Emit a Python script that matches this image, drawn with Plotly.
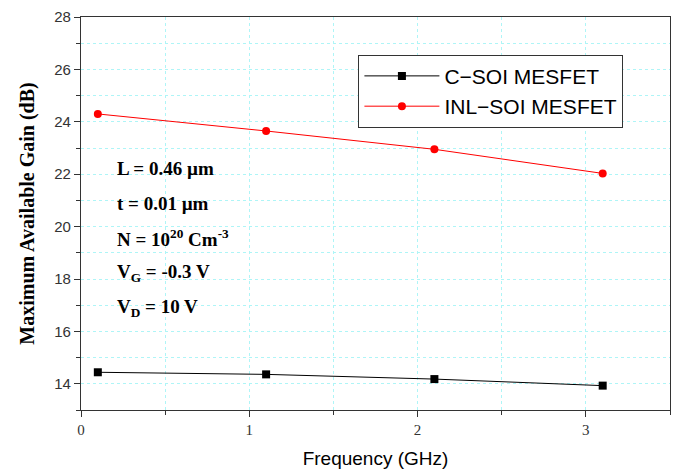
import plotly.graph_objects as go

freq = [0.1, 1.1, 2.1, 3.1]
c_soi = [14.44, 14.36, 14.18, 13.93]
inl_soi = [24.3, 23.65, 22.95, 22.03]

names = ["C\u2212SOI MESFET", "INL\u2212SOI MESFET"]
x_ticks = [0, 1, 2, 3]
y_ticks = [14, 16, 18, 20, 22, 24, 26, 28]

params = [
    "L = 0.46 \u00b5m",
    "t = 0.01 \u00b5m",
    "N = 10<sup>20</sup> Cm<sup>-3</sup>",
    "V<sub>G</sub> = -0.3 V",
    "V<sub>D</sub> = 10 V",
]

SERIF = "Liberation Serif, Times New Roman, serif"
SANS = "Liberation Sans, Arial, sans-serif"
GRID = "#aef5f7"

fig = go.Figure()
fig.add_trace(go.Scatter(
    x=freq, y=c_soi, name=names[0], mode="lines+markers",
    line=dict(color="black", width=1),
    marker=dict(symbol="square", size=8, color="black"),
))
fig.add_trace(go.Scatter(
    x=freq, y=inl_soi, name=names[1], mode="lines+markers",
    line=dict(color="red", width=1),
    marker=dict(symbol="circle", size=8, color="red"),
))

for i, t in enumerate(params):
    fig.add_annotation(
        x=0.057, y=0.615 - i * 0.0887, xref="paper", yref="paper",
        xanchor="left", yanchor="middle", text="<b>" + t + "</b>",
        showarrow=False, font=dict(family=SERIF, size=19, color="black"),
    )

grid = dict(showgrid=True, gridcolor=GRID, griddash="dot", gridwidth=1)

fig.update_layout(
    width=679, height=473,
    margin=dict(l=81, r=8, t=13, b=63),
    plot_bgcolor="white", paper_bgcolor="white",
    showlegend=True,
    legend=dict(
        x=0.471, y=0.904, xanchor="left", yanchor="top",
        bordercolor="#333333", borderwidth=1, bgcolor="white",
        font=dict(family=SANS, size=21, color="black"),
        itemwidth=75, tracegroupgap=0,
    ),
    xaxis=dict(
        range=[0, 3.5], tickvals=x_ticks, ticks="outside", ticklen=6,
        tickcolor="#333333", linecolor="#333333", linewidth=1.2, mirror=True,
        tickfont=dict(family=SERIF, size=15, color="#333333"),
        minor=dict(dtick=0.5, ticks="outside", ticklen=4, tickcolor="#333333",
                   showgrid=True, gridcolor=GRID, griddash="dot"),
        title=dict(text="Frequency (GHz)", font=dict(family=SANS, size=19, color="black"), standoff=14),
        zeroline=False, **grid,
    ),
    yaxis=dict(
        range=[13, 28], tickvals=y_ticks, ticks="outside", ticklen=6,
        tickcolor="#333333", linecolor="#333333", linewidth=1.2, mirror=True,
        tickfont=dict(family=SANS, size=15, color="#333333"),
        minor=dict(dtick=1, ticks="outside", ticklen=4, tickcolor="#333333",
                   showgrid=True, gridcolor=GRID, griddash="dot"),
        title=dict(text="<b>Maximum Available Gain (dB)</b>", font=dict(family=SERIF, size=20, color="black"), standoff=14),
        zeroline=False, **grid,
    ),
)

fig.write_html("out.html")
